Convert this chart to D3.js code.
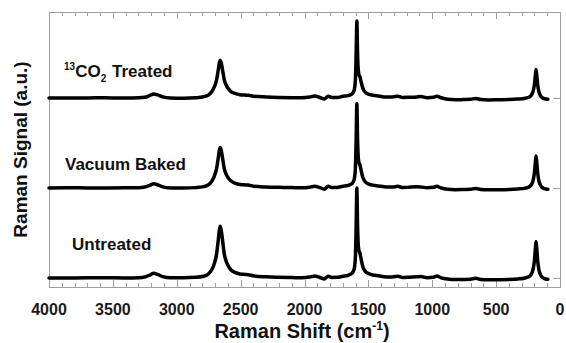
<!DOCTYPE html>
<html>
<head>
<meta charset="utf-8">
<script src="https://cdn.jsdelivr.net/npm/d3@7"></script>
<style>
  html, body { margin: 0; padding: 0; background: #fff; }
  svg { display: block; font-family: "Liberation Sans", Arial, sans-serif; }
</style>
</head>
<body>
<svg id="chart" width="566" height="343"></svg>
<script>
// Raman shift (cm^-1) sample positions, shared by all three spectra
const shift = [
  4000, 3800, 3600, 3400, 3300, 3250, 3210, 3180, 3150, 3110,
  3050, 2950, 2850, 2790, 2750, 2725, 2705, 2690, 2677, 2667,
  2660, 2652, 2642, 2628, 2612, 2595, 2575, 2545, 2505, 2465,
  2440, 2400, 2300, 2200, 2100, 2020, 1960, 1920, 1880, 1845,
  1815, 1785, 1745, 1700, 1660, 1630, 1612, 1602, 1596, 1590,
  1585, 1580, 1574, 1566, 1556, 1543, 1525, 1500, 1465, 1420,
  1360, 1310, 1270, 1230, 1180, 1120, 1090, 1040, 990, 965,
  930, 880, 820, 760, 700, 660, 620, 560, 480, 400,
  330, 280, 250, 228, 212, 200, 193, 188, 182, 175,
  166, 155, 143, 128, 112, 95
];

// Intensities (a.u.), before vertical stacking
const treated = [
  0, 0, 0.002, 0, 0.002, 0.008, 0.028, 0.045, 0.035, 0.012,
  0, -0.002, 0.003, 0.013, 0.035, 0.072, 0.126, 0.189, 0.294, 0.386,
  0.42, 0.391, 0.315, 0.202, 0.139, 0.101, 0.071, 0.05, 0.036, 0.032,
  0.029, 0.019, 0.011, 0.006, 0.003, 0.002, 0.01, 0.022, 0.005, -0.012,
  0.02, 0.005, 0.005, 0.018, 0.026, 0.043, 0.082, 0.192, 0.473, 0.855,
  0.515, 0.328, 0.26, 0.235, 0.175, 0.107, 0.065, 0.043, 0.031, 0.022,
  0.01, 0.012, 0.02, 0.005, 0.008, 0.012, 0.015, 0.003, 0.008, 0.02,
  0.002, -0.015, -0.02, -0.018, -0.015, -0.005, -0.018, -0.022, -0.02, -0.018,
  -0.012, -0.005, 0.005, 0.025, 0.068, 0.15, 0.249, 0.315, 0.256, 0.15,
  0.074, 0.031, 0.008, -0.005, -0.012, -0.015
];
const vacuumBaked = [
  0, 0.002, 0, 0.002, 0.003, 0.01, 0.03, 0.046, 0.036, 0.013,
  0.001, -0.001, 0.004, 0.015, 0.038, 0.077, 0.135, 0.203, 0.315, 0.414,
  0.45, 0.419, 0.338, 0.216, 0.149, 0.108, 0.077, 0.054, 0.038, 0.034,
  0.032, 0.02, 0.011, 0.007, 0.004, 0.002, 0.008, 0.02, 0.004, -0.013,
  0.018, 0.004, 0.006, 0.019, 0.028, 0.047, 0.089, 0.21, 0.517, 0.935,
  0.563, 0.358, 0.284, 0.256, 0.19, 0.116, 0.069, 0.046, 0.032, 0.023,
  0.011, 0.01, 0.018, 0.004, 0.009, 0.013, 0.012, 0.002, 0.007, 0.018,
  0, -0.014, -0.019, -0.017, -0.014, -0.006, -0.017, -0.021, -0.02, -0.017,
  -0.011, -0.004, 0.007, 0.029, 0.078, 0.17, 0.281, 0.355, 0.288, 0.17,
  0.085, 0.037, 0.011, -0.004, -0.011, -0.015
];
const untreated = [
  0, 0.001, 0.002, 0.001, 0.004, 0.012, 0.033, 0.052, 0.04, 0.015,
  0.002, 0.002, 0.007, 0.019, 0.048, 0.094, 0.164, 0.251, 0.396, 0.524,
  0.575, 0.529, 0.425, 0.268, 0.181, 0.129, 0.089, 0.062, 0.045, 0.04,
  0.037, 0.024, 0.013, 0.008, 0.005, 0.002, 0.01, 0.022, 0.006, -0.01,
  0.02, 0.006, 0.007, 0.02, 0.03, 0.05, 0.095, 0.225, 0.555, 1.0,
  0.605, 0.385, 0.305, 0.275, 0.205, 0.125, 0.075, 0.05, 0.034, 0.024,
  0.012, 0.012, 0.02, 0.005, 0.009, 0.013, 0.016, 0.004, 0.009, 0.021,
  0.002, -0.012, -0.018, -0.016, -0.013, -0.004, -0.016, -0.02, -0.019, -0.017,
  -0.011, -0.002, 0.01, 0.035, 0.09, 0.195, 0.321, 0.405, 0.329, 0.195,
  0.098, 0.044, 0.014, -0.002, -0.011, -0.015
];

// Vertical offset of each spectrum in the stack
const offsets = [2, 1, 0];
const seriesValues = [treated, vacuumBaked, untreated];

// x axis tick values
const majorTicks = [4000, 3500, 3000, 2500, 2000, 1500, 1000, 500, 0];
const minorTicks = d3.range(0, 4001, 100);

const svg = d3.select("#chart");
const margin = { left: 49, right: 6, top: 12, bottom: 56 };
const W = 566, H = 343;
const x0 = margin.left, x1 = W - margin.right;
const y0 = H - margin.bottom, y1 = margin.top;

const x = d3.scaleLinear().domain([4000, 0]).range([x0, x1]);
const y = d3.scaleLinear().domain([-0.1, 2.955]).range([y0, y1]);

const frameColor = "#a0a0a0";

// Plot frame
svg.append("rect")
  .attr("x", x0 + 0.5).attr("y", y1 + 0.5)
  .attr("width", x1 - x0).attr("height", y0 - y1)
  .attr("fill", "none").attr("stroke", frameColor).attr("stroke-width", 1);

// Inward ticks: bottom and top
function xTicks(g, values, len, dir) {
  g.selectAll("line").data(values).join("line")
    .attr("x1", d => Math.round(x(d)) + 0.5).attr("x2", d => Math.round(x(d)) + 0.5)
    .attr("y1", 0).attr("y2", dir * len)
    .attr("stroke", frameColor).attr("stroke-width", 1);
}
const bottomG = svg.append("g").attr("transform", `translate(0,${y0})`);
xTicks(bottomG.append("g"), minorTicks, 4, -1);
xTicks(bottomG.append("g"), majorTicks, 7, -1);
const topG = svg.append("g").attr("transform", `translate(0,${y1})`);
xTicks(topG.append("g"), minorTicks, 4, 1);
xTicks(topG.append("g"), majorTicks, 7, 1);

// y ticks at each baseline, both sides
svg.append("g").selectAll("line").data(offsets).join("line")
  .attr("x1", x1 - 7).attr("x2", x1)
  .attr("y1", d => Math.round(y(d)) + 0.5).attr("y2", d => Math.round(y(d)) + 0.5)
  .attr("stroke", frameColor);
svg.append("g").selectAll("line").data(offsets).join("line")
  .attr("x1", x0).attr("x2", x0 + 7)
  .attr("y1", d => Math.round(y(d)) + 0.5).attr("y2", d => Math.round(y(d)) + 0.5)
  .attr("stroke", frameColor);

// Tick labels
svg.append("g").selectAll("text").data(majorTicks).join("text")
  .attr("x", d => x(d)).attr("y", 315)
  .attr("text-anchor", "middle")
  .attr("font-size", 16).attr("font-weight", "bold").attr("fill", "#1a1a1a")
  .text(d => d);

// Spectra
const line = d3.line()
  .x(d => x(d[0]))
  .y(d => y(d[1]))
  .curve(d3.curveMonotoneX);

seriesValues.forEach((vals, i) => {
  const pts = shift.map((s, j) => [s, vals[j] + offsets[i]]);
  svg.append("path")
    .datum(pts)
    .attr("d", line)
    .attr("fill", "none")
    .attr("stroke", "#000")
    .attr("stroke-width", 3.5)
    .attr("stroke-linejoin", "round")
    .attr("stroke-linecap", "round");
});

// Spectrum labels
const lab = svg.append("g").attr("font-weight", "bold").attr("fill", "#111");
const t1 = lab.append("text").attr("x", 64).attr("y", 77).attr("font-size", 17);
t1.append("tspan").attr("font-size", 10).attr("dy", -7).text("13");
t1.append("tspan").attr("dy", 7).text("CO");
t1.append("tspan").attr("font-size", 10).attr("dy", 5).text("2");
t1.append("tspan").attr("dy", -5).attr("x", 112).text("Treated");
lab.append("text").attr("x", 65).attr("y", 170).attr("font-size", 17).text("Vacuum Baked");
lab.append("text").attr("x", 72).attr("y", 250).attr("font-size", 17).text("Untreated");

// Axis titles
const xt = svg.append("text")
  .attr("x", 302).attr("y", 338)
  .attr("text-anchor", "middle")
  .attr("font-size", 20).attr("font-weight", "bold").attr("fill", "#111");
xt.append("tspan").text("Raman Shift (cm");
xt.append("tspan").attr("font-size", 12).attr("dy", -8).text("-1");
xt.append("tspan").attr("dy", 8).text(")");

svg.append("text")
  .attr("transform", `translate(27,${(y0 + y1) / 2}) rotate(-90)`)
  .attr("text-anchor", "middle")
  .attr("font-size", 19).attr("font-weight", "bold").attr("fill", "#111")
  .text("Raman Signal (a.u.)");
</script>
</body>
</html>
